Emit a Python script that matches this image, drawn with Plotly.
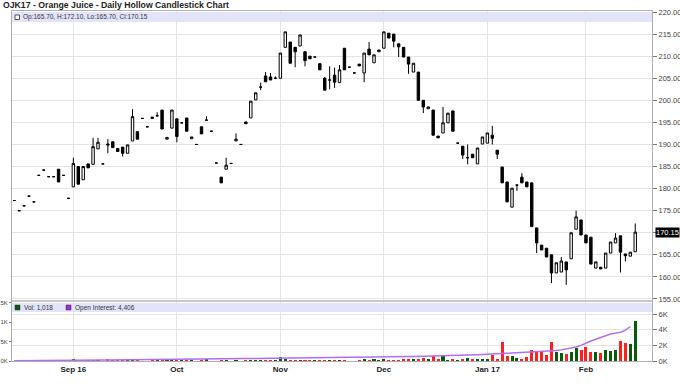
import plotly.graph_objects as go

# ---------------- data ----------------
tick_pos = [12, 33, 54, 75, 96, 116]
tick_labels = ["Sep 16", "Oct", "Nov", "Dec", "Jan 17", "Feb"]

open_ = [177.3, 175.0, 176.1, 178.3, 177.0, 183.0, 184.2, 182.7, 182.7, 184.4,
         183.0, 177.8, 180.4, 185.0, 182.0, 185.6, 185.5, 189.0, 185.6, 190.1,
         190.6, 189.1, 189.4, 188.0, 190.8, 192.9, 195.9, 194.0, 196.2, 196.5,
         197.8, 191.2, 193.7, 195.8, 194.9, 196.0, 191.3, 190.0, 194.0, 195.5,
         193.0, 185.8, 182.6, 184.4, 185.7, 190.8, 190.0, 195.1, 196.0, 200.1,
         203.0, 205.5, 205.3, 205.0, 205.0, 212.0, 213.2, 212.0, 212.3, 211.0,
         210.0, 209.8, 208.3, 205.0, 204.6, 205.7, 204.0, 211.8, 207.5, 206.2,
         208.2, 206.2, 211.6, 208.5, 211.0, 211.8, 215.2, 215.0, 212.8, 212.0,
         209.8, 206.4, 206.4, 200.0, 198.1, 197.8, 191.9, 192.6, 194.9, 197.6,
         190.3, 189.6, 187.0, 187.8, 185.6, 190.1, 190.3, 192.1, 188.7, 184.9,
         181.5, 175.8, 180.8, 182.6, 181.5, 181.3, 171.1, 167.2, 166.5, 165.0,
         160.9, 161.1, 163.4, 164.1, 170.8, 172.9, 169.5, 169.0, 162.0, 162.2,
         162.0, 165.4, 167.7, 169.3, 165.2, 164.7, 165.7]
high = [177.3, 175.0, 176.1, 178.3, 177.0, 183.0, 184.2, 182.7, 182.7, 184.4,
        183.0, 177.8, 187.0, 185.0, 185.0, 185.6, 191.5, 191.5, 185.6, 191.2,
        190.6, 189.1, 189.4, 189.9, 198.0, 192.9, 195.9, 194.0, 196.2, 197.3,
        197.8, 191.6, 197.8, 195.8, 194.9, 196.0, 191.7, 190.0, 194.0, 196.4,
        193.0, 185.8, 182.6, 187.0, 185.7, 192.5, 190.0, 195.1, 199.8, 201.7,
        204.0, 206.4, 206.2, 205.4, 210.7, 215.5, 213.2, 212.0, 214.8, 211.0,
        210.0, 209.8, 208.3, 205.3, 207.7, 207.4, 208.0, 211.8, 207.5, 206.2,
        208.2, 210.7, 213.2, 210.3, 211.4, 215.5, 215.2, 215.0, 212.8, 212.0,
        209.8, 208.4, 206.4, 200.0, 198.5, 197.8, 191.9, 198.5, 197.1, 197.6,
        190.3, 189.6, 190.0, 187.8, 189.2, 191.7, 192.6, 194.2, 188.7, 184.9,
        181.5, 180.1, 180.8, 183.5, 181.5, 181.3, 171.1, 167.2, 166.5, 165.0,
        163.2, 164.5, 163.4, 170.0, 175.0, 172.9, 169.5, 169.0, 163.4, 162.2,
        165.4, 167.9, 169.9, 169.3, 165.2, 165.6, 172.1]
low = [177.3, 175.0, 176.1, 178.3, 177.0, 183.0, 184.2, 182.7, 182.7, 181.5,
       183.0, 177.8, 180.4, 181.0, 182.0, 184.7, 185.5, 189.0, 185.6, 188.0,
       189.3, 188.4, 187.3, 188.0, 190.8, 191.2, 195.9, 194.0, 195.9, 196.3,
       193.5, 191.2, 193.7, 190.5, 194.9, 193.0, 191.3, 190.0, 192.4, 195.3,
       193.0, 185.8, 181.3, 184.4, 185.7, 190.8, 190.0, 194.7, 196.0, 200.1,
       202.3, 204.2, 204.6, 204.8, 205.0, 212.0, 208.4, 207.5, 212.3, 207.7,
       209.4, 209.8, 206.9, 202.3, 202.5, 202.8, 204.0, 206.9, 207.5, 206.2,
       207.8, 204.1, 210.3, 208.5, 211.0, 211.8, 214.1, 212.0, 209.8, 209.8,
       206.0, 206.4, 200.0, 197.1, 198.1, 192.1, 191.5, 192.6, 194.9, 193.0,
       190.3, 186.7, 185.5, 187.0, 185.6, 190.1, 190.3, 190.0, 186.7, 181.3,
       177.0, 175.8, 179.5, 181.3, 180.4, 171.4, 165.4, 166.1, 164.5, 158.6,
       160.9, 161.1, 158.2, 164.1, 170.8, 169.5, 167.7, 162.9, 162.0, 161.8,
       162.0, 165.4, 167.7, 161.0, 163.5, 164.7, 165.7]
close = [177.3, 175.0, 176.1, 178.3, 177.0, 183.0, 184.2, 182.7, 182.7, 181.5,
         183.0, 177.8, 185.7, 181.0, 185.0, 184.7, 189.5, 190.5, 185.6, 189.9,
         189.3, 188.4, 188.0, 189.9, 196.3, 191.2, 195.9, 194.0, 195.9, 196.5,
         193.5, 191.6, 197.8, 191.8, 194.9, 193.0, 191.7, 190.0, 192.4, 195.5,
         193.0, 185.8, 181.3, 185.3, 185.7, 191.2, 190.0, 194.7, 199.8, 201.7,
         203.0, 204.2, 204.6, 205.0, 210.7, 215.5, 208.4, 211.0, 214.8, 209.0,
         209.4, 209.8, 206.9, 202.3, 204.6, 204.1, 206.9, 206.9, 207.5, 206.2,
         207.8, 210.7, 210.3, 210.3, 211.4, 215.5, 214.1, 213.4, 212.1, 209.8,
         208.2, 208.4, 200.0, 198.5, 198.5, 192.1, 191.5, 194.9, 197.1, 193.0,
         190.3, 187.6, 187.0, 187.0, 189.2, 191.7, 192.6, 191.4, 187.8, 181.3,
         177.0, 180.1, 180.8, 181.3, 180.4, 171.4, 167.7, 166.1, 164.5, 160.9,
         163.2, 163.6, 161.6, 170.0, 173.6, 169.5, 167.7, 162.9, 163.4, 161.8,
         165.4, 167.9, 168.8, 165.6, 164.8, 165.6, 170.15]

volume = [0, 0, 0, 0, 0, 0, 0, 0, 0, 15,
          0, 0, 30, 20, 15, 10, 25, 10, 0, 40,
          20, 10, 20, 10, 25, 10, 0, 0, 15, 15,
          20, 15, 20, 20, 15, 10, 5, 0, 10, 60,
          0, 0, 10, 25, 0, 5, 0, 5, 15, 15,
          15, 15, 20, 25, 111, 60, 25, 20, 20, 20,
          25, 20, 20, 25, 20, 20, 15, 15, 0, 0,
          10, 26, 10, 26, 17, 26, 17, 20, 20, 34,
          26, 26, 51, 68, 34, 119, 51, 137, 17, 26,
          17, 34, 68, 51, 43, 43, 60, 154, 43, 495,
          128, 137, 85, 26, 94, 282, 256, 256, 145, 478,
          230, 196, 171, 222, 341, 282, 367, 222, 222, 196,
          282, 256, 282, 512, 452, 435, 1018]

open_interest = [20, 20, 25, 25, 30, 30, 35, 35, 40, 45,
                 45, 50, 60, 70, 80, 90, 100, 110, 115, 120,
                 130, 140, 150, 160, 170, 180, 185, 190, 200, 210,
                 220, 230, 240, 250, 255, 260, 265, 270, 275, 280,
                 285, 290, 295, 300, 300, 305, 310, 310, 315, 320,
                 320, 325, 330, 330, 400, 405, 405, 410, 410, 415,
                 420, 420, 425, 430, 430, 435, 440, 445, 450, 455,
                 460, 470, 480, 490, 500, 510, 520, 530, 540, 550,
                 560, 570, 580, 590, 600, 610, 620, 640, 660, 680,
                 700, 720, 740, 760, 790, 820, 850, 880, 920, 960,
                 1000, 1030, 1060, 1090, 1120, 1150, 1170, 1190, 1230, 1280,
                 1340, 1420, 1520, 1620, 1800, 2000, 2300, 2550, 2770, 3000,
                 3250, 3450, 3560, 3660, 3950, 4406, None]

price_ticks = [155, 160, 165, 170, 175, 180, 185, 190, 195, 200, 205, 210, 215, 220]
vol_ticks = [0, 500, 1000, 1500]
vol_tick_labels = ["0K", ".5K", "1K", "1.5K"]
oi_ticks = [0, 2000, 4000, 6000]
oi_tick_labels = ["0K", "2K", "4K", "6K"]

title_text = "OJK17 - Orange Juice - Daily Hollow Candlestick Chart"
ohlc_text = "Op:165.70, H:172.10, Lo:165.70, Cl:170.15"
vol_text = "Vol: 1,018"
oi_text = "Open Interest: 4,406"
last_price_text = "170.15"

# ---------------- layout helpers ----------------
W, H = 680, 386
ML, MR, MT, MB = 12, 28, 11, 25
PW, PH = W - ML - MR, H - MT - MB


def px(x):
    return (x - ML) / PW


def py(y):
    return (H - MB - y) / PH


FONT = "Liberation Sans"
GREEN = "#0b5a0b"
RED = "#ff1e1e"
PURPLE = "#b46cf5"
GRID = "#e4e4e4"

xs = list(range(len(close)))
vol_colors = [GREEN if c >= o else RED for o, c in zip(open_, close)]
# the last price box covers its own grid label
price_tick_text = ["" if abs(v - close[-1]) < 1.0 else f"{v:.2f}" for v in price_ticks]

fig = go.Figure()
fig.add_trace(go.Candlestick(
    x=xs, open=open_, high=high, low=low, close=close,
    increasing=dict(fillcolor="white", line=dict(color="black", width=1)),
    decreasing=dict(fillcolor="black", line=dict(color="black", width=1)),
    whiskerwidth=0, xaxis="x", yaxis="y", showlegend=False, hoverinfo="skip"))
fig.add_trace(go.Bar(
    x=xs, y=volume, marker=dict(color=vol_colors, line=dict(width=0)),
    width=0.62, xaxis="x2", yaxis="y2", showlegend=False, hoverinfo="skip"))
fig.add_trace(go.Scatter(
    x=xs, y=open_interest, mode="lines", line=dict(color=PURPLE, width=1.5),
    xaxis="x2", yaxis="y3", showlegend=False, hoverinfo="skip"))

main_bottom = py(300)
vol_top = py(302)
XR = [-0.45, 129.4]

fig.update_layout(
    width=W, height=H, margin=dict(l=ML, r=MR, t=MT, b=MB, autoexpand=False),
    paper_bgcolor="white", plot_bgcolor="white",
    font=dict(family=FONT, size=8, color="#333333"),
    bargap=0,
    xaxis=dict(range=XR, autorange=False, tickmode="array", tickvals=tick_pos,
               ticktext=[""] * len(tick_pos), showticklabels=False, ticks="",
               showgrid=True, gridcolor=GRID, zeroline=False,
               rangeslider=dict(visible=False), automargin=False,
               domain=[0, 1], anchor="y", showline=True, linecolor="#b0b0b0",
               linewidth=1, mirror=True),
    xaxis2=dict(range=XR, autorange=False, tickmode="array", tickvals=tick_pos,
                ticktext=tick_labels, showticklabels=True, ticks="",
                showgrid=True, gridcolor=GRID, zeroline=False, automargin=False,
                domain=[0, 1], anchor="y2",
                tickfont=dict(family=FONT, size=8, color="#222222", weight="bold"),
                showline=True, linecolor="#b0b0b0", linewidth=1, mirror=True),
    yaxis=dict(domain=[main_bottom, 1], range=[154.77, 220.23], autorange=False,
               side="right", tickmode="array", tickvals=price_ticks,
               ticktext=price_tick_text, automargin=False,
               showgrid=True, gridcolor=GRID, zeroline=False,
               ticks="outside", ticklen=4, tickcolor="#777777",
               showline=True, linecolor="#b0b0b0", linewidth=1, mirror=True,
               tickfont=dict(family=FONT, size=7.5, color="#444444")),
    yaxis2=dict(domain=[0, vol_top], range=[0, 1520], autorange=False, side="left",
                anchor="x2", tickmode="array", tickvals=vol_ticks,
                ticktext=vol_tick_labels, automargin=False,
                showgrid=False, zeroline=False, ticks="outside", ticklen=2,
                tickcolor="#777777", showline=True, linecolor="#b0b0b0",
                tickfont=dict(family=FONT, size=6, color="#444444")),
    yaxis3=dict(overlaying="y2", anchor="x2", side="right", range=[0, 7535],
                autorange=False, tickmode="array", tickvals=oi_ticks,
                ticktext=oi_tick_labels, automargin=False,
                showgrid=True, gridcolor=GRID, zeroline=False, ticks="outside",
                ticklen=4, tickcolor="#777777", showline=True, linecolor="#b0b0b0",
                tickfont=dict(family=FONT, size=7.5, color="#444444")),
)

shapes = [
    # legend band in price panel
    dict(type="rect", xref="paper", yref="paper", x0=0, x1=1, y0=py(22), y1=py(12),
         fillcolor="#e3e3fa", line=dict(width=0), layer="above"),
    dict(type="rect", xref="paper", yref="paper", x0=px(15), x1=px(19.5), y0=py(19.5),
         y1=py(15), fillcolor="white", line=dict(color="#555555", width=1), layer="above"),
    # legend band in volume panel
    dict(type="rect", xref="paper", yref="paper", x0=0, x1=1, y0=py(312), y1=py(303),
         fillcolor="#e3e3fa", line=dict(width=0), layer="above"),
    dict(type="rect", xref="paper", yref="paper", x0=px(15), x1=px(20), y0=py(310),
         y1=py(305), fillcolor=GREEN, line=dict(color="#333333", width=0.5), layer="above"),
    dict(type="rect", xref="paper", yref="paper", x0=px(66), x1=px(71), y0=py(310),
         y1=py(305), fillcolor="#9a2be0", line=dict(color="#333333", width=0.5), layer="above"),
    # panel separator
    dict(type="line", xref="paper", yref="paper", x0=0, x1=1, y0=py(301), y1=py(301),
         line=dict(color="#c8c8c8", width=2)),
]
fig.update_layout(shapes=shapes)

annotations = [
    dict(text=f"<b>{title_text}</b>", xref="paper", yref="paper", x=px(1), y=py(5.5),
         xanchor="left", yanchor="middle", showarrow=False,
         font=dict(family=FONT, size=8.7, color="#222222")),
    dict(text=ohlc_text, xref="paper", yref="paper", x=px(21), y=py(17),
         xanchor="left", yanchor="middle", showarrow=False,
         font=dict(family=FONT, size=6.5, color="#333333")),
    dict(text=vol_text, xref="paper", yref="paper", x=px(22), y=py(307.5),
         xanchor="left", yanchor="middle", showarrow=False,
         font=dict(family=FONT, size=6.5, color="#333333")),
    dict(text=oi_text, xref="paper", yref="paper", x=px(73), y=py(307.5),
         xanchor="left", yanchor="middle", showarrow=False,
         font=dict(family=FONT, size=6.5, color="#333333")),
    dict(text=last_price_text, xref="paper", yref="y", x=px(655), y=close[-1],
         xanchor="left", yanchor="middle", showarrow=False, bgcolor="black",
         borderpad=0, font=dict(family=FONT, size=7.5, color="white")),
]
fig.update_layout(annotations=annotations)

fig.write_html("out.html")
